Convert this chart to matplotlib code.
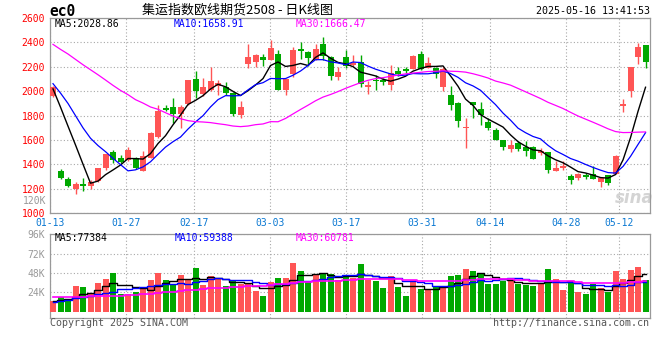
import numpy as np
import pandas as pd
import matplotlib
matplotlib.use('Agg')
import matplotlib.pyplot as plt
from matplotlib.transforms import blended_transform_factory

# trading days shown (MM-DD), 2025
dates = ['01-13', '01-14', '01-15', '01-16', '01-17', '01-20', '01-21', '01-22', '01-23', '01-24',
         '01-27', '02-05', '02-06', '02-07', '02-10', '02-11', '02-12', '02-13', '02-14', '02-17',
         '02-18', '02-19', '02-20', '02-21', '02-24', '02-25', '02-26', '02-27', '02-28', '03-03',
         '03-04', '03-05', '03-06', '03-07', '03-10', '03-11', '03-12', '03-13', '03-14', '03-17',
         '03-18', '03-19', '03-20', '03-21', '03-24', '03-25', '03-26', '03-27', '03-28', '03-31',
         '04-01', '04-02', '04-03', '04-07', '04-08', '04-09', '04-10', '04-11', '04-14', '04-15',
         '04-16', '04-17', '04-18', '04-21', '04-22', '04-23', '04-24', '04-25', '04-28', '04-29',
         '04-30', '05-06', '05-07', '05-08', '05-09', '05-12', '05-13', '05-14', '05-15', '05-16']
label_dates = ['01-13', '01-27', '02-17', '03-03', '03-17', '03-31', '04-14', '04-28', '05-12']

open_ = [1963, 1344, 1279, 1202, 1243, 1222, 1262, 1369, 1500, 1453,
         1434, 1453, 1350, 1456, 1622, 1860, 1871, 1816, 1895, 2103,
         1977, 2010, 2045, 2037, 1988, 1808, 2225, 2242, 2283, 2258,
         2307, 2013, 2144, 2343, 2321, 2258, 2386, 2283, 2119, 2280,
         2217, 2236, 2037, 2092, 2094, 2054, 2168, 2184, 2184, 2305,
         2190, 2190, 2032, 1972, 1906, 1696, 1912, 1854, 1745, 1685,
         1601, 1524, 1579, 1546, 1546, 1492, 1500, 1347, 1374, 1303,
         1287, 1317, 1322, 1257, 1312, 1322, 1876, 1999, 2283, 2375]
high = [2040, 1366, 1295, 1257, 1290, 1271, 1374, 1489, 1522, 1475,
        1543, 1459, 1513, 1665, 1884, 1890, 1944, 1884, 2095, 2168,
        2108, 2198, 2089, 2078, 1994, 1920, 2386, 2307, 2305, 2422,
        2335, 2103, 2359, 2400, 2326, 2389, 2446, 2291, 2195, 2340,
        2294, 2299, 2086, 2135, 2108, 2217, 2201, 2201, 2299, 2326,
        2283, 2195, 2195, 2040, 1910, 1781, 1915, 1912, 1781, 1699,
        1604, 1601, 1595, 1590, 1554, 1535, 1503, 1426, 1426, 1322,
        1331, 1328, 1391, 1298, 1314, 1475, 1939, 2198, 2392, 2381]
low = [1955, 1285, 1219, 1159, 1181, 1197, 1254, 1358, 1412, 1415,
       1430, 1363, 1344, 1452, 1618, 1835, 1737, 1699, 1890, 1944,
       1964, 2005, 1966, 1969, 1800, 1781, 2190, 2195, 2209, 2255,
       2010, 1966, 2114, 2264, 2209, 2255, 2258, 2089, 2089, 2190,
       2204, 2032, 1977, 2010, 2054, 2013, 2122, 2149, 2180, 2176,
       2187, 2108, 1999, 1849, 1704, 1535, 1781, 1721, 1683, 1598,
       1519, 1500, 1513, 1470, 1446, 1481, 1328, 1344, 1358, 1243,
       1271, 1282, 1280, 1213, 1230, 1320, 1827, 1950, 2223, 2187]
close = [2032, 1287, 1227, 1243, 1222, 1254, 1374, 1489, 1437, 1423,
         1522, 1369, 1470, 1661, 1835, 1843, 1816, 1871, 2092, 2004,
         2037, 2086, 2067, 1988, 1816, 1868, 2283, 2299, 2253, 2351,
         2013, 2100, 2340, 2332, 2269, 2345, 2285, 2122, 2160, 2209,
         2231, 2059, 2048, 2081, 2073, 2152, 2144, 2163, 2291, 2184,
         2234, 2144, 2184, 1884, 1759, 1707, 1884, 1808, 1699, 1601,
         1541, 1563, 1530, 1513, 1448, 1511, 1352, 1369, 1391, 1271,
         1325, 1295, 1282, 1290, 1249, 1472, 1895, 2195, 2365, 2236]
volume = [13800, 17900, 15800, 31300, 30000, 22900, 35400, 40000, 47500, 22500,
          21700, 24200, 30000, 38800, 47500, 38800, 33800, 45000, 39600, 53800,
          32900, 43800, 40000, 31300, 37500, 33800, 34600, 25000, 18800, 36700,
          41300, 41300, 60000, 50000, 37500, 45400, 47100, 46300, 38800, 45000,
          42100, 58800, 39600, 37500, 28800, 44200, 30400, 19200, 38800, 27500,
          26300, 30400, 29600, 43800, 45000, 52500, 50000, 46300, 34200, 34200,
          37900, 41300, 34200, 32500, 31300, 35800, 52500, 40000, 26300, 35000,
          23800, 21300, 33800, 28800, 23800, 50000, 40000, 51300, 55000, 38800]

# moving-average values before a full window is available
ma5_head = [2019, 1870, 1714, 1560]
ma10_head = [2062, 1985, 1900, 1800, 1700, 1615, 1555, 1505, 1450]
ma30_head = [2384, 2343, 2305, 2261, 2217, 2176, 2135, 2092, 2048, 2007,
             1972, 1931, 1903, 1871, 1852, 1824, 1797, 1775, 1759, 1751,
             1748, 1743, 1734, 1726, 1715, 1710, 1715, 1726, 1732]
vma5_head = [13800, 14600, 15800, 17900]
vma10_head = [12500, 13800, 15000, 16700, 17900, 19200, 21300, 22900, 24600]
vma30_head = [17900, 18000, 18100, 18300, 18500, 18800, 19000, 19300, 19600, 20000,
              20400, 20900, 21400, 22000, 22800, 23800, 24700, 25600, 26500, 27400,
              28300, 28800, 29300, 29800, 30300, 30800, 31300, 31800, 32300]

RED = '#ff5555'
GREEN = '#00a800'
GRID = '#a8a8a8'
MONO = 'DejaVu Sans Mono'


def moving_avg(values, n, head):
    ma = pd.Series(values, dtype=float).rolling(n).mean().to_numpy()
    ma[:len(head)] = head
    return ma


W, H = 660, 360


def px_rect(l, t, r, b):
    return [l / W, 1 - b / H, (r - l) / W, (b - t) / H]


o = np.array(open_, float)
c = np.array(close, float)
hi = np.array(high, float)
lo = np.array(low, float)
x = np.arange(len(dates))
up = c >= o
colors = np.where(up, RED, GREEN)

fig = plt.figure(figsize=(6.6, 3.6), dpi=100)
ax = fig.add_axes(px_rect(50, 18, 649.5, 213.3))
axv = fig.add_axes(px_rect(50, 234.3, 649.5, 318))

xmin, xmax = -0.4, 79.53
# sina spaces its date grid over n-1 slots of the panel width
grid_x = [xmin + (xmax - xmin) * dates.index(d) / (len(dates) - 1) for d in label_dates]

# ---- price panel
ax.vlines(x, lo, hi, colors=colors, lw=1, zorder=2)
ax.bar(x, np.maximum(np.abs(c - o), 7), bottom=np.minimum(o, c), width=0.8,
       color=colors, lw=0, zorder=3)
ax.plot(x, moving_avg(close, 5, ma5_head), color='black', lw=1, zorder=4)
ax.plot(x, moving_avg(close, 10, ma10_head), color='#0000ff', lw=0.9, zorder=4)
ax.plot(x, moving_avg(close, 30, ma30_head), color='#ff00ff', lw=0.9, zorder=4)

ax.set_xlim(xmin, xmax)
ax.set_ylim(1000, 2600)
ax.set_yticks(np.arange(1000, 2601, 200))
ax.set_xticks(grid_x)
ax.set_xticklabels(label_dates)
ax.tick_params(axis='y', length=0, pad=3.5, labelcolor='#ff0000', labelsize=7)
ax.tick_params(axis='x', length=0, pad=3.5, labelcolor='#0a78d2', labelsize=7)
for lab in ax.get_xticklabels() + ax.get_yticklabels():
    lab.set_family(MONO)
ax.grid(True, color=GRID, linestyle=(0, (1, 2)), lw=0.8)
ax.set_axisbelow(True)

ax.text(0.008, 0.968, 'MA5:2028.86', transform=ax.transAxes, va='center',
        family=MONO, fontsize=7, color='black')
ax.text(0.207, 0.968, 'MA10:1658.91', transform=ax.transAxes, va='center',
        family=MONO, fontsize=7, color='#0000ff')
ax.text(0.409, 0.968, 'MA30:1666.47', transform=ax.transAxes, va='center',
        family=MONO, fontsize=7, color='#ff00ff')
tr = blended_transform_factory(ax.transAxes, ax.transData)
ax.text(-0.006, 1100, '120K', transform=tr, ha='right', va='center',
        family=MONO, fontsize=7, color='#999999')
ax.text(0.975, 0.08, 'sina', transform=ax.transAxes, ha='center', va='center',
        fontsize=12, style='italic', weight='bold', color='#d4d4d4', zorder=1)

# ---- volume panel
axv.bar(x, volume, width=0.8, color=colors, lw=0, zorder=3)
axv.plot(x, moving_avg(volume, 5, vma5_head), color='black', lw=1, zorder=4,
         drawstyle='steps-mid')
axv.plot(x, moving_avg(volume, 10, vma10_head), color='#0000ff', lw=1, zorder=4,
         drawstyle='steps-mid')
axv.plot(x, moving_avg(volume, 30, vma30_head), color='#ff00ff', lw=1.2, zorder=4,
         drawstyle='steps-mid')
axv.set_xlim(xmin, xmax)
axv.set_ylim(-7900, 96000)
axv.set_yticks([24000, 48000, 72000, 96000])
axv.set_yticklabels(['24K', '48K', '72K', '96K'])
axv.set_xticks(grid_x)
axv.set_xticklabels([])
axv.tick_params(length=0, pad=3.5, labelcolor='#999999', labelsize=7)
for lab in axv.get_yticklabels():
    lab.set_family(MONO)
axv.grid(True, color=GRID, linestyle=(0, (1, 2)), lw=0.8)
axv.set_axisbelow(True)

axv.text(0.008, 0.95, 'MA5:77384', transform=axv.transAxes, va='center',
         family=MONO, fontsize=7, color='black')
axv.text(0.208, 0.95, 'MA10:59388', transform=axv.transAxes, va='center',
         family=MONO, fontsize=7, color='#0000ff')
axv.text(0.409, 0.95, 'MA30:60781', transform=axv.transAxes, va='center',
         family=MONO, fontsize=7, color='#ff00ff')

for a in (ax, axv):
    for s in a.spines.values():
        s.set_color('#999999')
        s.set_linewidth(0.9)

# ---- header / footer
fig.text(49 / W, 1 - 11 / H, 'ec0', family=MONO, weight='bold', fontsize=10.5,
         va='center', color='black')
fig.text(237 / W, 1 - 10.5 / H, '集运指数欧线期货2508 - 日K线图', ha='center', va='center',
         fontsize=9.4, family=['Noto Sans CJK SC', 'DejaVu Sans'], color='black')
fig.text(649.5 / W, 1 - 11.5 / H, '2025-05-16 13:41:53', ha='right', va='center',
         family=MONO, fontsize=7.2, color='black')
fig.text(50 / W, 1 - 323.5 / H, 'Copyright 2025 SINA.COM', va='center',
         family=MONO, fontsize=7.2, color='#555555')
fig.text(649.5 / W, 1 - 323.5 / H, 'http://finance.sina.com.cn', ha='right', va='center',
         family=MONO, fontsize=7.2, color='#555555')

fig.savefig('out.png', dpi=100)
